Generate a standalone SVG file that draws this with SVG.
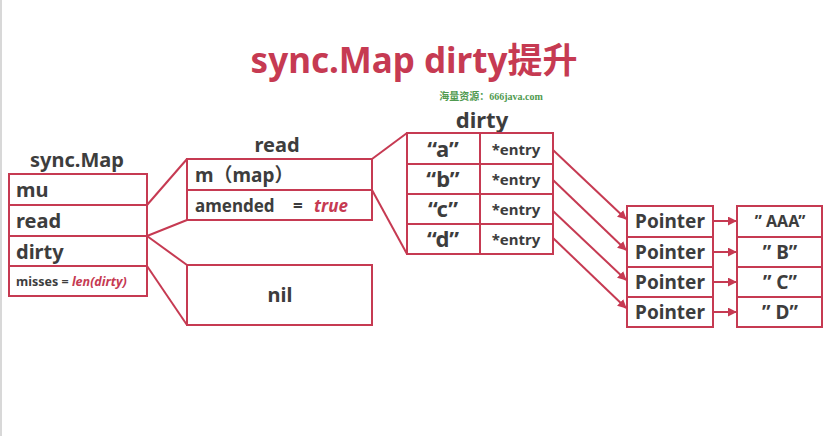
<svg xmlns="http://www.w3.org/2000/svg" width="829" height="436" viewBox="0 0 829 436">
<defs>
<style>
.b{fill:#fff;stroke:#c63a52;stroke-width:2}
.l{fill:none;stroke:#c63a52;stroke-width:2}
.t{font-family:"Noto Sans","Noto Sans CJK SC",sans-serif;font-weight:bold;fill:#3d3d3d}
.c{text-anchor:middle}
.r{fill:#c63a52;font-style:italic}
</style>
<marker id="ah" viewBox="0 0 10 10" refX="9" refY="5" markerWidth="9" markerHeight="9" markerUnits="userSpaceOnUse" orient="auto">
<path d="M0,0 L10,5 L0,10 z" fill="#c63a52"/>
</marker>
</defs>
<rect width="829" height="436" fill="#fff"/>
<line x1="1" y1="0" x2="1" y2="436" stroke="#d8d8d8" stroke-width="2"/>
<text x="414" y="73" class="t c" style="font-size:35px;fill:#c63a52">sync.Map dirty提升</text>
<text x="491" y="100" class="c" style="font-size:10px;fill:#4f9a4f;font-weight:bold;font-family:'Liberation Serif','Noto Sans CJK SC',serif">海量资源：666java.com</text>

<g id="connectors">
<line class="l" x1="147" y1="205" x2="187" y2="159"/>
<line class="l" x1="147" y1="236" x2="187" y2="220"/>
<line class="l" x1="147" y1="236" x2="187" y2="265"/>
<line class="l" x1="147" y1="266" x2="187" y2="325"/>
<line class="l" x1="372" y1="159" x2="407" y2="133"/>
<line class="l" x1="372" y1="190" x2="407" y2="254"/>
<line class="l" x1="553" y1="150" x2="626" y2="219" marker-end="url(#ah)"/>
<line class="l" x1="553" y1="180" x2="626" y2="250" marker-end="url(#ah)"/>
<line class="l" x1="553" y1="211" x2="626" y2="280" marker-end="url(#ah)"/>
<line class="l" x1="553" y1="238" x2="626" y2="308" marker-end="url(#ah)"/>
<line class="l" x1="713" y1="221" x2="736" y2="221" marker-end="url(#ah)"/>
<line class="l" x1="713" y1="252" x2="736" y2="252" marker-end="url(#ah)"/>
<line class="l" x1="713" y1="282" x2="736" y2="282" marker-end="url(#ah)"/>
<line class="l" x1="713" y1="312" x2="736" y2="312" marker-end="url(#ah)"/>
</g>

<g id="syncmap">
<text x="77" y="167" class="t c" style="font-size:20px">sync.Map</text>
<rect class="b" x="9" y="174" width="138" height="122"/>
<line class="l" x1="9" y1="205" x2="147" y2="205"/>
<line class="l" x1="9" y1="236" x2="147" y2="236"/>
<line class="l" x1="9" y1="266" x2="147" y2="266"/>
<text x="16" y="197" class="t" style="font-size:20px">mu</text>
<text x="16" y="228" class="t" style="font-size:20px">read</text>
<text x="16" y="259" class="t" style="font-size:20px">dirty</text>
<text x="16" y="286" class="t" style="font-size:12.5px">misses = <tspan class="r">len(dirty)</tspan></text>
</g>

<g id="read">
<text x="277" y="152" class="t c" style="font-size:20px">read</text>
<rect class="b" x="187" y="159" width="185" height="61"/>
<line class="l" x1="187" y1="190" x2="372" y2="190"/>
<text x="195" y="182" class="t" style="font-size:19px">m（map）</text>
<text x="195" y="212" class="t" style="font-size:17px">amended<tspan x="293">=</tspan><tspan x="314" class="r">true</tspan></text>
</g>

<g id="nil">
<rect class="b" x="187" y="265" width="185" height="60"/>
<text x="280" y="302" class="t c" style="font-size:20px">nil</text>
</g>

<g id="dirty">
<text x="482" y="128" class="t c" style="font-size:22px">dirty</text>
<rect class="b" x="407" y="133" width="146" height="121"/>
<line class="l" x1="407" y1="164" x2="553" y2="164"/>
<line class="l" x1="407" y1="194" x2="553" y2="194"/>
<line class="l" x1="407" y1="224" x2="553" y2="224"/>
<line class="l" x1="480" y1="133" x2="480" y2="254"/>
<text x="443" y="157" class="t c" style="font-size:22px">“a”</text>
<text x="443" y="187" class="t c" style="font-size:22px">“b”</text>
<text x="443" y="217" class="t c" style="font-size:22px">“c”</text>
<text x="443" y="247" class="t c" style="font-size:22px">“d”</text>
<text x="516" y="155" class="t c" style="font-size:15px">*entry</text>
<text x="516" y="185" class="t c" style="font-size:15px">*entry</text>
<text x="516" y="215" class="t c" style="font-size:15px">*entry</text>
<text x="516" y="245" class="t c" style="font-size:15px">*entry</text>
</g>

<g id="pointers">
<rect class="b" x="627" y="206" width="86" height="121"/>
<line class="l" x1="627" y1="237" x2="713" y2="237"/>
<line class="l" x1="627" y1="267" x2="713" y2="267"/>
<line class="l" x1="627" y1="297" x2="713" y2="297"/>
<text x="670" y="228" class="t c" style="font-size:19px">Pointer</text>
<text x="670" y="259" class="t c" style="font-size:19px">Pointer</text>
<text x="670" y="289" class="t c" style="font-size:19px">Pointer</text>
<text x="670" y="319" class="t c" style="font-size:19px">Pointer</text>
</g>

<g id="values">
<rect class="b" x="737" y="206" width="85" height="121"/>
<line class="l" x1="737" y1="237" x2="822" y2="237"/>
<line class="l" x1="737" y1="267" x2="822" y2="267"/>
<line class="l" x1="737" y1="297" x2="822" y2="297"/>
<text x="780" y="227" class="t c" style="font-size:16px">” AAA”</text>
<text x="780" y="259" class="t c" style="font-size:19px">”  B”</text>
<text x="780" y="289" class="t c" style="font-size:19px">”  C”</text>
<text x="780" y="319" class="t c" style="font-size:19px">”  D”</text>
</g>
</svg>
